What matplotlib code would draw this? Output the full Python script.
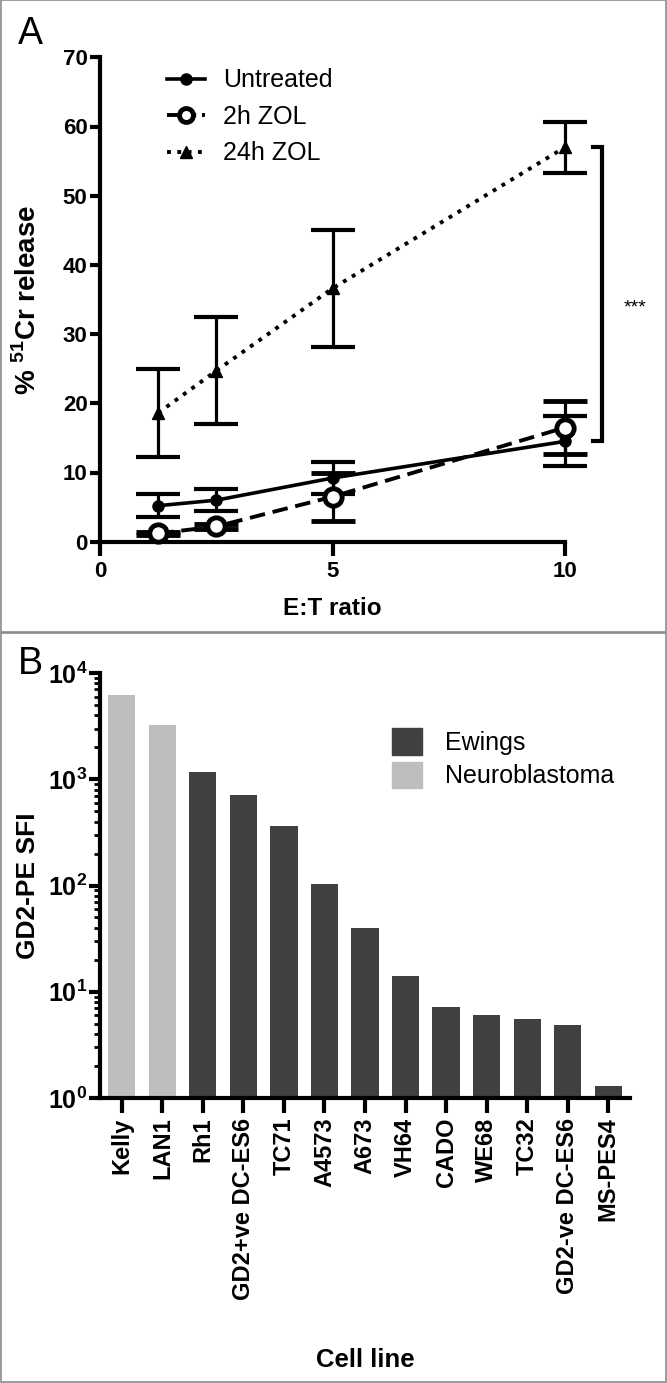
import math
import matplotlib
matplotlib.use('Agg')
import matplotlib.pyplot as plt
from matplotlib.lines import Line2D
from matplotlib.patches import Patch, Rectangle
from matplotlib.ticker import FixedLocator, FuncFormatter, LogLocator, NullFormatter

plt.rcParams['font.family'] = ['Liberation Sans', 'DejaVu Sans']
plt.rcParams['mathtext.fontset'] = 'custom'
plt.rcParams['mathtext.rm'] = 'Liberation Sans'
plt.rcParams['mathtext.bf'] = 'Liberation Sans:bold'

# Panel A: chromium release vs E:T ratio
et_ratio = [1.25, 2.5, 5, 10]
untreated = [5.2, 6.0, 9.2, 14.5]
untreated_sd = [1.7, 1.6, 2.3, 3.6]
zol_2h = [1.2, 2.2, 6.5, 16.5]
zol_2h_sd = [0.2, 0.4, 3.5, 3.8]
zol_24h = [18.6, 24.7, 36.6, 57.0]
zol_24h_sd = [6.4, 7.7, 8.4, 3.7]

# Panel B: GD2 expression per cell line
cell_lines = ['Kelly', 'LAN1', 'Rh1', 'GD2+ve DC-ES6', 'TC71', 'A4573', 'A673',
              'VH64', 'CADO', 'WE68', 'TC32', 'GD2-ve DC-ES6', 'MS-PES4']
gd2_sfi = [6200, 3250, 1170, 705, 366, 104, 40, 14, 7.2, 6.1, 5.6, 4.9, 1.3]
tumour_type = ['Neuroblastoma', 'Neuroblastoma'] + ['Ewings'] * 11
type_colours = {'Ewings': '#404040', 'Neuroblastoma': '#bebebe'}

W, H = 667, 1383
fig = plt.figure(figsize=(W / 100, H / 100), dpi=100)

def fx(px):
    return px / W

def fy(py):
    return 1 - py / H

# panel frames
fig.add_artist(Rectangle((fx(0.5), fy(632)), fx(665.5), fy(0.5) - fy(632),
                         transform=fig.transFigure, fill=False, ec='#8a8a8a', lw=1.2))
fig.add_artist(Rectangle((fx(0.5), fy(1382)), fx(665.5), fy(633.5) - fy(1382),
                         transform=fig.transFigure, fill=False, ec='#8a8a8a', lw=1.2))
fig.text(fx(18), fy(44), 'A', fontsize=27)
fig.text(fx(18), fy(674), 'B', fontsize=27)

# ---- panel A ----
axA = fig.add_axes([fx(100), fy(541.7), fx(565) - fx(100), fy(57.3) - fy(541.7)])
axA.set_xlim(0, 10)
axA.set_ylim(0, 70)
ebkw = dict(ecolor='black', elinewidth=2.3, capsize=16, capthick=3, clip_on=False)
axA.errorbar(et_ratio, untreated, yerr=untreated_sd, fmt='-o', color='black', lw=2.6,
             ms=8, zorder=4, **ebkw)
eb2 = axA.errorbar(et_ratio, zol_2h, yerr=zol_2h_sd, fmt='--o', color='black', lw=2.8,
                   ms=12.5, mfc='white', mew=3.5, dashes=(4, 2), zorder=5, **ebkw)
eb2[0].set_zorder(6)
axA.errorbar(et_ratio, zol_24h, yerr=zol_24h_sd, fmt=':^', color='black', lw=2.8,
             ms=8, zorder=3, **ebkw)
for art in axA.get_children():
    art.set_clip_on(False)

for s in ['top', 'right']:
    axA.spines[s].set_visible(False)
for s in ['left', 'bottom']:
    axA.spines[s].set_linewidth(3)
axA.set_yticks(range(0, 71, 10))
axA.set_xticks([0, 5, 10])
axA.tick_params(axis='both', direction='out', length=7, width=3, labelsize=16, pad=2)
axA.tick_params(axis='x', length=10, pad=4)
for lab in axA.get_xticklabels() + axA.get_yticklabels():
    lab.set_fontweight('bold')
axA.set_xlabel('E:T ratio', fontsize=17.5, fontweight='bold')
axA.xaxis.set_label_coords(0.5, -0.114)
axA.set_ylabel(r'% $^{\mathbf{51}}$Cr release', fontsize=20, fontweight='bold')
axA.yaxis.set_label_coords(-0.125, 0.5)

# significance bracket between untreated and 24h ZOL at highest ratio
bx0, bx1 = 10.6, 10.8
ytop, ybot = zol_24h[-1], untreated[-1]
axA.plot([bx0, bx1, bx1, bx0], [ytop, ytop, ybot, ybot], color='black', lw=3,
         clip_on=False, solid_joinstyle='miter')
axA.text(11.5, (ytop + ybot) / 2 - 2, '***', fontsize=14, ha='center', va='center')

handles = [Line2D([], [], color='black', ls='-', lw=2.6, marker='o', ms=8),
           Line2D([], [], color='black', ls='--', lw=2.8, marker='o', ms=10, mfc='white',
                  mew=3.5, dashes=(3, 1.5)),
           Line2D([], [], color='black', ls=':', lw=2.8, marker='^', ms=8)]
axA.legend(handles, ['Untreated', '2h ZOL', '24h ZOL'], loc='upper left',
           bbox_to_anchor=(0.145, 0.977), frameon=False, fontsize=18, borderpad=0,
           handlelength=1.5, handletextpad=0.72, labelspacing=0.5, borderaxespad=0)

# ---- panel B ----
axB = fig.add_axes([fx(100), fy(1098), fx(630) - fx(100), fy(673) - fy(1098)])
xs = list(range(len(cell_lines)))
axB.bar(xs, gd2_sfi, width=0.67, color=[type_colours[t] for t in tumour_type],
        edgecolor='none', zorder=2)
axB.set_yscale('log')
axB.set_ylim(1, 1e4)
axB.set_xlim(-0.54, len(cell_lines) - 0.46)
for s in ['top', 'right']:
    axB.spines[s].set_visible(False)
for s in ['left', 'bottom']:
    axB.spines[s].set_linewidth(3)
axB.yaxis.set_major_locator(FixedLocator([1, 10, 100, 1000, 10000]))
axB.yaxis.set_major_formatter(FuncFormatter(
    lambda v, p: r'$\mathbf{10^{%d}}$' % round(math.log10(v))))
axB.yaxis.set_minor_locator(LogLocator(base=10, subs=range(2, 10)))
axB.yaxis.set_minor_formatter(NullFormatter())
axB.tick_params(axis='y', which='major', direction='out', length=8, width=3, labelsize=18, pad=1)
axB.tick_params(axis='y', which='minor', direction='out', length=4.5, width=2)
axB.set_xticks(xs)
axB.set_xticklabels(cell_lines, rotation=90, fontsize=17, fontweight='bold')
axB.tick_params(axis='x', direction='out', length=11, width=3, pad=3)
axB.set_xlabel('Cell line', fontsize=18.5, fontweight='bold')
axB.xaxis.set_label_coords(0.5, -0.588)
axB.set_ylabel('GD2-PE SFI', fontsize=19, fontweight='bold')
axB.yaxis.set_label_coords(-0.113, 0.5)

leg_handles = [Patch(color=type_colours['Ewings']), Patch(color=type_colours['Neuroblastoma'])]
axB.legend(leg_handles, ['Ewings', 'Neuroblastoma'], loc='upper left',
           bbox_to_anchor=(0.551, 0.87), frameon=False, fontsize=18, borderpad=0,
           handlelength=1.2, handleheight=1.24, handletextpad=0.92, labelspacing=0.28,
           borderaxespad=0)

fig.savefig('out.png', dpi=100)
